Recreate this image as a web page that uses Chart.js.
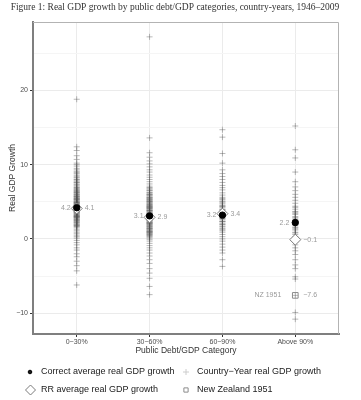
<!DOCTYPE html>
<html>
<head>
<meta charset="utf-8">
<script src="https://cdn.jsdelivr.net/npm/chart.js@4.4.0/dist/chart.umd.min.js"></script>
<style>
html,body{margin:0;padding:0;background:#fff;}
canvas{display:block;}
</style>
</head>
<body>
<canvas id="grafica" width="361" height="400"></canvas>
<script>
// categorias de deuda/PIB
const CATEGORIAS = ["0\u221230%", "30\u221260%", "60\u221290%", "Above 90%"];

// crecimiento real del PIB por pais-ano
const CRECIMIENTO_0_30 = [18.8, 12.4, 11.9, 11.2, 10.7, 10.2, 10.0, 9.8, 9.5, 9.3, 9.1, 8.8, 8.6, 8.3, 8.2, 8.0, 7.8, 7.6, 7.5, 7.3, 7.1, 6.9, 6.8, 6.7, 6.6, 6.4, 6.3, 6.2, 6.1, 6.0, 5.9, 5.8, 5.7, 5.6, 5.5, 5.4, 5.3, 5.2, 5.1, 5.0, 4.9, 4.9, 4.8, 4.7, 4.6, 4.5, 4.4, 4.4, 4.3, 4.2, 4.1, 4.0, 3.9, 3.8, 3.7, 3.6, 3.5, 3.4, 3.3, 3.2, 3.1, 3.0, 3.0, 2.9, 2.8, 2.7, 2.6, 2.5, 2.4, 2.3, 2.2, 2.0, 1.9, 1.8, 1.7, 1.5, 1.3, 1.1, 0.9, 0.7, 0.5, 0.3, 0.1, -0.2, -0.5, -0.8, -1.2, -1.5, -2.0, -2.4, -3.0, -3.6, -4.3, -6.2,
    8.95, 8.45, 7.95, 7.65, 7.25, 6.95, 6.55, 6.25, 5.95, 5.65, 5.45, 5.25, 5.05, 4.85, 4.65, 4.45, 4.25, 4.05, 3.85, 3.65, 3.45, 3.25, 3.05, 2.85, 2.65, 2.45, 2.25, 2.05, 1.85, 1.65, 5.35, 4.75, 4.15, 3.55, 2.95, 6.45, 5.75, 4.55, 3.75, 3.15];
const CRECIMIENTO_30_60 = [27.2, 13.6, 11.6, 11.0, 10.5, 10.1, 9.7, 9.3, 9.0, 8.6, 8.3, 8.0, 7.7, 7.4, 7.1, 6.9, 6.7, 6.5, 6.3, 6.1, 6.0, 5.9, 5.8, 5.6, 5.4, 5.3, 5.2, 5.1, 5.0, 4.8, 4.7, 4.6, 4.5, 4.4, 4.3, 4.2, 4.1, 3.9, 3.9, 3.8, 3.6, 3.5, 3.4, 3.3, 3.2, 3.1, 3.0, 2.9, 2.8, 2.7, 2.6, 2.4, 2.3, 2.2, 2.1, 2.0, 1.8, 1.7, 1.6, 1.5, 1.4, 1.2, 1.1, 1.0, 0.9, 0.8, 0.7, 0.6, 0.5, 0.3, 0.1, -0.1, -0.3, -0.6, -0.9, -1.2, -1.5, -1.9, -2.3, -2.8, -3.3, -4.0, -4.6, -5.3, -6.4, -7.5,
    6.85, 6.55, 6.25, 5.95, 5.65, 5.45, 5.25, 5.05, 4.85, 4.65, 4.45, 4.25, 4.05, 3.85, 3.65, 3.45, 3.25, 3.05, 2.85, 2.65, 2.45, 2.25, 2.05, 1.85, 1.65, 1.45, 1.25, 1.05, 0.85, 0.65, 0.45, 0.25, 4.95, 4.35, 3.75, 3.15, 2.55, 1.95, 1.35, 5.55, 4.15, 3.35, 2.75, 2.15, 0.95];
const CRECIMIENTO_60_90 = [14.7, 13.7, 11.5, 10.2, 9.3, 8.8, 8.4, 8.0, 7.6, 7.2, 6.9, 6.6, 6.2, 5.9, 5.6, 5.3, 5.1, 5.0, 4.7, 4.5, 4.4, 4.2, 4.0, 3.8, 3.7, 3.5, 3.3, 3.2, 3.0, 2.8, 2.6, 2.4, 2.3, 2.1, 1.9, 1.7, 1.6, 1.4, 1.1, 0.9, 0.6, 0.3, 0.0, -0.3, -0.7, -1.1, -1.5, -1.9, -2.8, -3.7,
    5.45, 4.85, 4.35, 3.95, 3.55, 3.15, 2.75, 2.35, 1.95, 1.25];
const CRECIMIENTO_90 = [15.2, 12.0, 10.9, 9.0, 7.7, 7.0, 6.5, 6.0, 5.6, 5.2, 4.8, 4.4, 4.0, 3.7, 3.6, 3.3, 3.0, 2.9, 2.7, 2.4, 2.2, 2.1, 1.8, 1.6, 1.5, 1.2, 0.9, 0.8, 0.6, 0.3, 0.0, -0.4, -0.8, -1.2, -1.6, -2.1, -2.8, -3.5, -4.0, -5.1, -5.4, -7.6, -9.9, -10.8,
    4.25, 3.45, 2.55, 1.95, 1.35];

// promedios
const PROMEDIO_CORRECTO = [4.2, 3.1, 3.2, 2.2];
const PROMEDIO_RR = [4.1, 2.9, 3.4, -0.1];
const NZ_1951 = -7.6;
const NZ_CATEGORIA = 3;

const Y_TICKS = [-10, -5, 0, 5, 10, 15, 20, 25];

const fmt = v => (v < 0 ? "\u2212" : "") + Math.abs(v).toFixed(1);

const puntosPais = [];
[CRECIMIENTO_0_30, CRECIMIENTO_30_60, CRECIMIENTO_60_90, CRECIMIENTO_90].forEach((serie, i) => {
    serie.forEach(v => puntosPais.push({x: i, y: v}));
});

const SANS = '"Liberation Sans", Arial, sans-serif';

const extras = {
    id: "extras",
    afterDraw(chart){
        const {ctx, chartArea: a, scales: {x, y}} = chart;
        ctx.save();
        // borde del panel arriba y derecha
        ctx.strokeStyle = "#b3b3b3";
        ctx.lineWidth = 1;
        ctx.beginPath();
        ctx.moveTo(a.left, a.top + 0.5);
        ctx.lineTo(a.right - 0.5, a.top + 0.5);
        ctx.lineTo(a.right - 0.5, a.bottom);
        ctx.stroke();

        // etiquetas de valores
        ctx.font = "7px " + SANS;
        ctx.fillStyle = "#9a9a9a";
        ctx.textBaseline = "middle";
        PROMEDIO_CORRECTO.forEach((v, i) => {
            const px = x.getPixelForValue(i);
            ctx.textAlign = "right";
            ctx.fillText(fmt(v), px - 6, y.getPixelForValue(v));
            ctx.textAlign = "left";
            ctx.fillText(fmt(PROMEDIO_RR[i]), px + 8, y.getPixelForValue(PROMEDIO_RR[i]));
        });
        const nx = x.getPixelForValue(NZ_CATEGORIA), ny = y.getPixelForValue(NZ_1951);
        ctx.textAlign = "right";
        ctx.fillText("NZ 1951", nx - 14, ny);
        ctx.textAlign = "left";
        ctx.fillText(fmt(NZ_1951), nx + 8, ny);

        // titulo
        ctx.font = '9.5px "Liberation Serif", "Times New Roman", serif';
        ctx.fillStyle = "#333";
        ctx.textAlign = "center";
        ctx.fillText("Figure 1: Real GDP growth by public debt/GDP categories, country-years, 1946\u20132009", 175, 7);

        // leyenda
        const dp = Chart.helpers.drawPoint;
        ctx.font = "9px " + SANS;
        ctx.textAlign = "left";
        ctx.fillStyle = "#1a1a1a";
        ctx.strokeStyle = "#000";
        dp(ctx, {pointStyle: "circle", radius: 1.8, borderWidth: 1}, 30, 372);
        ctx.fillText("Correct average real GDP growth", 41, 372);
        ctx.fillStyle = "#fff";
        ctx.strokeStyle = "#7a7a7a";
        dp(ctx, {pointStyle: "rectRot", radius: 5, borderWidth: 1}, 30.5, 390);
        ctx.fillStyle = "#1a1a1a";
        ctx.fillText("RR average real GDP growth", 41, 390);
        ctx.strokeStyle = "#cccccc";
        dp(ctx, {pointStyle: "cross", radius: 3, borderWidth: 1}, 186, 372);
        ctx.fillText("Country\u2212Year real GDP growth", 197, 372);
        ctx.strokeStyle = "#8c8c8c";
        ctx.fillStyle = "rgba(0,0,0,0)";
        dp(ctx, {pointStyle: "rect", radius: 3, borderWidth: 1}, 186, 390);
        ctx.fillStyle = "#1a1a1a";
        ctx.fillText("New Zealand 1951", 197, 390);
        ctx.restore();
    }
};

window.onload = () => {
const ctx = document.getElementById("grafica").getContext("2d");
const grafica = new Chart(ctx, {
    type: "scatter",
    data: {
        datasets: [
            {
                label: "Correct average real GDP growth",
                data: PROMEDIO_CORRECTO.map((v, i) => ({x: i, y: v})),
                pointStyle: "circle",
                pointRadius: 3.2,
                backgroundColor: "#000",
                borderColor: "#000",
                borderWidth: 1,
                order: 0
            },
            {
                label: "RR average real GDP growth",
                data: PROMEDIO_RR.map((v, i) => ({x: i, y: v})),
                pointStyle: "rectRot",
                pointRadius: 5.5,
                backgroundColor: "#fff",
                borderColor: "#7a7a7a",
                borderWidth: 1,
                order: 1
            },
            {
                label: "New Zealand 1951",
                data: [{x: NZ_CATEGORIA, y: NZ_1951}],
                pointStyle: "rect",
                pointRadius: 4,
                backgroundColor: "rgba(0,0,0,0)",
                borderColor: "#8c8c8c",
                borderWidth: 1,
                order: 2
            },
            {
                label: "Country\u2212Year real GDP growth",
                data: puntosPais,
                pointStyle: "cross",
                pointRadius: 3,
                borderColor: "rgba(80,80,80,0.4)",
                borderWidth: 1,
                order: 3
            }
        ]
    },
    options: {
        responsive: false,
        animation: false,
        events: [],
        layout: {padding: {top: 22, right: 22, bottom: 44, left: 0}},
        scales: {
            x: {
                type: "linear",
                min: -0.6,
                max: 3.6,
                afterBuildTicks: s => { s.ticks = CATEGORIAS.map((c, i) => ({value: i})); },
                afterFit: s => { s.height = 22; },
                border: {color: "#7f7f7f", width: 2},
                grid: {color: "#ebebeb", tickColor: "#333", tickLength: 3},
                ticks: {
                    callback: v => CATEGORIAS[v],
                    font: {size: 7, family: SANS},
                    color: "#4d4d4d",
                    padding: 1,
                    maxRotation: 0
                },
                title: {
                    display: true,
                    text: "Public Debt/GDP Category",
                    font: {size: 8.5, family: SANS},
                    color: "#333",
                    padding: {top: 0, bottom: 0}
                }
            },
            y: {
                min: -12.8,
                max: 29.2,
                afterBuildTicks: s => { s.ticks = Y_TICKS.map(v => ({value: v})); },
                afterFit: s => { s.width = 33; },
                border: {color: "#7f7f7f", width: 2},
                grid: {
                    color: c => c.tick.value % 10 === 0 ? "#ebebeb" : "#f5f5f5",
                    tickColor: c => c.tick.value % 10 === 0 ? "#333" : "rgba(0,0,0,0)",
                    tickLength: 3
                },
                ticks: {
                    callback: v => v % 10 === 0 ? fmt(v).replace(".0", "") : "",
                    font: {size: 7, family: SANS},
                    color: "#4d4d4d",
                    padding: 2
                },
                title: {
                    display: true,
                    text: "Real GDP Growth",
                    font: {size: 8.5, family: SANS},
                    color: "#333",
                    padding: {top: 8, bottom: 0}
                }
            }
        },
        plugins: {
            legend: {display: false},
            title: {display: false},
            tooltip: {enabled: false}
        }
    },
    plugins: [extras]
});
}
</script>
</body>
</html>
